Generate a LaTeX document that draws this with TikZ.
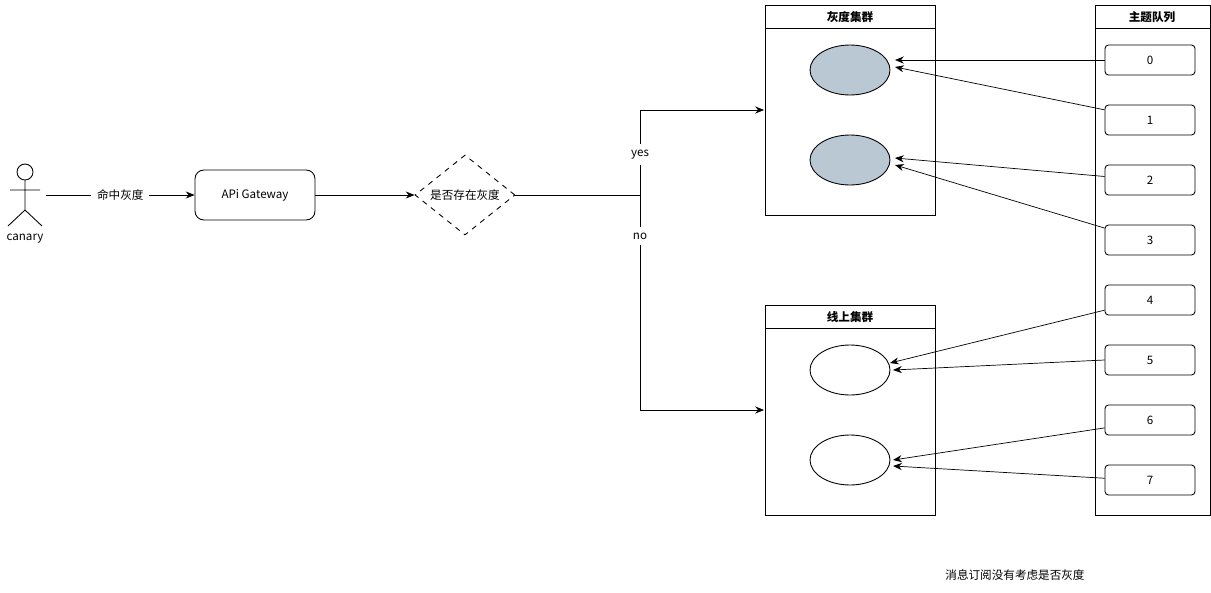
\documentclass[tikz,border=0pt]{standalone}
\usepackage{fontspec}
\setmainfont{Noto Sans CJK SC}
\usepackage{tikz}
\usetikzlibrary{arrows.meta, positioning, shapes.geometric}
\definecolor{colorCanary}{HTML}{BAC8D3}
\tikzset{every node/.style={font=\fontsize{6.6}{8}\selectfont},
  flow/.style={-{Stealth[length=5pt,width=4pt]}, thin},
  topic/.style={draw, rounded corners=2pt, minimum width=1.8cm, minimum height=0.6cm},
  inst/.style={draw, ellipse, minimum width=1.6cm, minimum height=1cm}}
\begin{document}
\begin{tikzpicture}[x=0.02cm, y=-0.02cm, line width=0.5pt]
\useasboundingbox (0,0) rectangle (1211,592);
% user
\draw (25,172) circle (8);
\draw (25,180) -- (25,210) (10,190) -- (40,190) (25,210) -- (8,226) (25,210) -- (42,226);
\coordinate (user) at (46,195);
\node (canary) at (25,239) {canary};
\node[draw, rounded corners=5pt, minimum width=2.4cm, minimum height=1cm] (gw) at (255,195) {APi Gateway};
\node[draw, dashed, diamond, aspect=1.25, minimum width=2cm, minimum height=1.6cm, inner sep=0pt] (dec) at (465,195) {是否存在灰度};
\draw[flow] (user) -- node[fill=white]{命中灰度} (gw);
\draw[flow] (gw) -- (dec);
% clusters
\draw (765,5) rectangle (935,215) (765,28) -- (935,28);
\node[font=\fontsize{6.6}{8}\selectfont\bfseries] at (850,17) {灰度集群};
\draw (765,305) rectangle (935,515) (765,328) -- (935,328);
\node[font=\fontsize{6.6}{8}\selectfont\bfseries] at (850,317) {线上集群};
\coordinate (gray) at (764,110);
\coordinate (online) at (764,410);
\coordinate (split) at (640,195);
\draw (dec.east) -- (split);
\draw[flow] (split) |- node[pos=0.24, fill=white]{yes} (gray);
\draw[flow] (split) |- node[pos=0.095, fill=white]{no} (online);
\node[inst, fill=colorCanary] (g0) at (850,70) {};
\node[inst, fill=colorCanary] (g1) at (850,160) {};
\node[inst] (o0) at (850,370) {};
\node[inst] (o1) at (850,460) {};
% topic queue
\draw (1095,5) rectangle (1210,515) (1095,28) -- (1210,28);
\node[font=\fontsize{6.6}{8}\selectfont\bfseries] at (1152,17) {主题队列};
\foreach \i in {0,...,7}
  \node[topic] (p\i) at (1150,60+60*\i) {\i};
\draw[flow] (p0.west) -- (895,60);
\draw[flow] ([yshift=-3pt]p1.north west) -- (895,67);
\draw[flow] ([yshift=2pt]p2.west) -- (895,158);
\draw[flow] ([yshift=-2pt]p3.north west) -- (895,165);
\draw[flow] ([yshift=3pt]p4.south west) -- (890,363);
\draw[flow] (p5.west) -- (893,370);
\draw[flow] ([yshift=-4.5pt]p6.west) -- (893,460);
\draw[flow] ([yshift=1pt]p7.west) -- (893,466);
\node (note) at (1015,575) {消息订阅没有考虑是否灰度};
\end{tikzpicture}
\end{document}
